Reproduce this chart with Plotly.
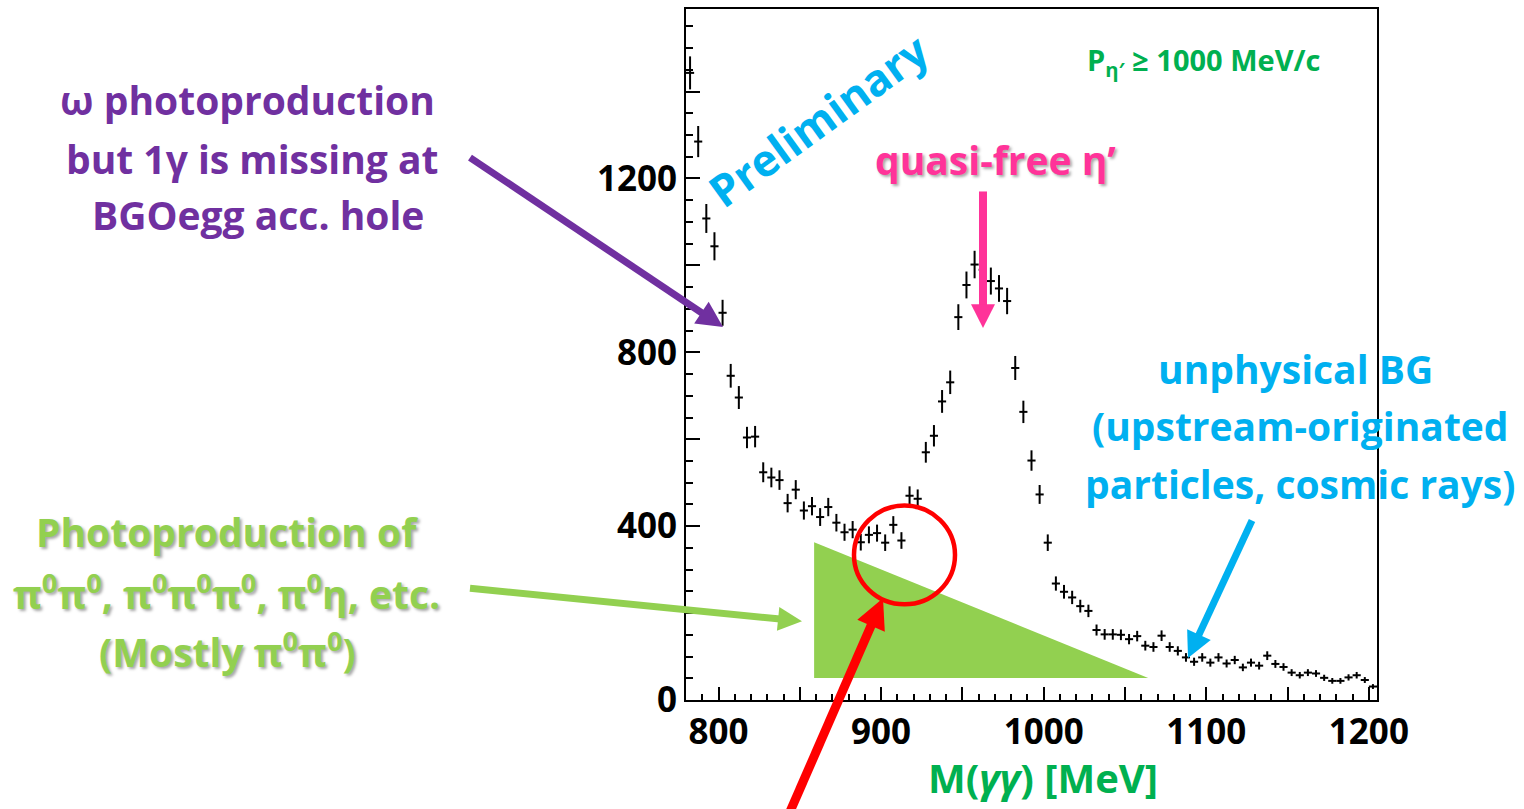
import numpy as np
import plotly.graph_objects as go

# Two-photon invariant mass spectrum, 5 MeV bins from 780 to 1205 MeV
bin_low = 780.0
bin_width = 5.0
counts = [
    1443, 1285, 1108, 1044, 891, 746, 696, 604, 606, 524,
    512, 506, 453, 484, 436, 446, 421, 444, 408, 386,
    392, 363, 380, 384, 362, 403, 367, 470, 463, 570,
    608, 687, 731, 881, 955, 1002, 990, 964, 947, 918,
    764, 663, 551, 473, 362, 268, 249, 236, 216, 205,
    161, 151, 151, 150, 140, 147, 125, 122, 148, 122,
    113, 98, 88, 98, 86, 98, 84, 92, 75, 86,
    79, 102, 83, 76, 63, 57, 63, 61, 51, 44,
    44, 52, 57, 46, 31,
]
bin_centers = bin_low + bin_width * (np.arange(len(counts)) + 0.5)
count_errors = np.sqrt(np.array(counts, dtype=float))

x_tick_values = [800, 850, 900, 950, 1000, 1050, 1100, 1150, 1200]
x_tick_labels = ["800", "", "900", "", "1000", "", "1100", "", "1200"]
y_tick_values = [0, 200, 400, 600, 800, 1000, 1200, 1400]
y_tick_labels = ["0", "", "400", "", "800", "", "1200", ""]

W, H = 1524, 809
PL, PR, PT, PB = 686, 1377, 7, 700  # plot frame in page pixels
FONT = "Open Sans"


def px(x):
    return (x - PL) / (PR - PL)


def py(y):
    return (PB - y) / (PB - PT)


fig = go.Figure()
fig.add_trace(go.Scatter(
    x=bin_centers, y=counts, mode="markers",
    marker=dict(size=2, color="rgba(0,0,0,0)", line=dict(width=0)),
    error_y=dict(type="data", array=count_errors, thickness=2, width=0, color="black"),
    error_x=dict(type="constant", value=bin_width / 2, thickness=2, width=0, color="black"),
    showlegend=False, hoverinfo="x+y",
))

shapes = []

# shaded multi-pion background sketch
shapes.append(dict(
    type="path", xref="x", yref="y", layer="below",
    path="M 858.8,50.5 L 858.8,363 L 1064.3,50.5 Z",
    fillcolor="#92D050", line=dict(width=0),
))

# circle marking the overlap region
shapes.append(dict(
    type="circle", xref="paper", yref="paper",
    x0=px(854), x1=px(955), y0=py(604), y1=py(505),
    line=dict(color="#FF0000", width=4.5),
))


def arrow(tail, tip, width, head_len, head_w, color):
    tx, ty = tail
    hx, hy = tip
    d = np.hypot(hx - tx, hy - ty)
    ux, uy = (hx - tx) / d, (hy - ty) / d
    bx, by = hx - ux * head_len, hy - uy * head_len
    nx, ny = -uy, ux
    shapes.append(dict(
        type="line", xref="paper", yref="paper",
        x0=px(tx), y0=py(ty), x1=px(bx + ux * 2), y1=py(by + uy * 2),
        line=dict(color=color, width=width),
    ))
    p1 = (bx + nx * head_w / 2, by + ny * head_w / 2)
    p2 = (bx - nx * head_w / 2, by - ny * head_w / 2)
    shapes.append(dict(
        type="path", xref="paper", yref="paper",
        path=f"M {px(hx)},{py(hy)} L {px(p1[0])},{py(p1[1])} L {px(p2[0])},{py(p2[1])} Z",
        fillcolor=color, line=dict(width=0),
    ))


arrow((470, 156), (723, 326), 7, 26, 26, "#7030A0")
arrow((983, 190), (983, 327), 8, 24, 24, "#FF3399")
arrow((1252, 520), (1188, 658), 7, 26, 26, "#00B0F0")
arrow((470, 588), (802, 621), 7, 24, 24, "#92D050")
arrow((790, 812), (883, 598), 9, 30, 30, "#FF0000")

annotations = []


def label(text, x, y, size, color, angle=0, shadow=None):
    font = dict(family=FONT, size=size, color=color, weight="bold")
    if shadow:
        font["shadow"] = shadow
    annotations.append(dict(
        text=text, xref="paper", yref="paper", x=px(x), y=py(y),
        xanchor="center", yanchor="middle", showarrow=False,
        font=font, textangle=angle,
    ))


soft_shadow = "2px 2px 3px rgba(0,0,0,0.35)"

label("ω photoproduction", 247, 98, 39, "#7030A0")
label("but 1γ is missing at", 252, 157, 39, "#7030A0")
label("BGOegg acc. hole", 258, 213, 39, "#7030A0")

label("Photoproduction of", 227, 531, 39, "#92D050", shadow=soft_shadow)
label("π<sup>0</sup>π<sup>0</sup>, π<sup>0</sup>π<sup>0</sup>π<sup>0</sup>, π<sup>0</sup>η, etc.",
      226, 592, 39, "#92D050", shadow=soft_shadow)
label("(Mostly π<sup>0</sup>π<sup>0</sup>)", 227, 650, 39, "#92D050", shadow=soft_shadow)

label("unphysical BG", 1295, 368, 39, "#00B0F0")
label("(upstream-originated", 1300, 425, 39, "#00B0F0")
label("particles, cosmic rays)", 1300, 483, 39, "#00B0F0")

label("quasi-free η’", 995, 158, 39, "#FF3399", shadow=soft_shadow)
label("P<sub>η′</sub> ≥ 1000 MeV/c", 1203, 60, 29, "#00B050")
label("Preliminary", 818, 118, 44, "#00B0F0", angle=-36)

# x-axis title
label("M(<i>γγ</i>) [MeV]", 1043, 778, 40, "#00B050")

fig.update_layout(
    width=W, height=H,
    margin=dict(l=PL, r=W - PR, t=PT, b=H - PB, pad=0),
    paper_bgcolor="white", plot_bgcolor="white",
    shapes=shapes, annotations=annotations,
    xaxis=dict(
        range=[780, 1205], tickmode="array",
        tickvals=x_tick_values, ticktext=x_tick_labels,
        ticks="inside", ticklen=13, tickwidth=2, tickcolor="black",
        minor=dict(tickmode="linear", tick0=780, dtick=10, ticks="inside",
                   ticklen=6, tickwidth=2, tickcolor="black"),
        showgrid=False, zeroline=False,
        showline=True, linewidth=2, linecolor="black", mirror=True,
        tickfont=dict(family=FONT, size=35, color="black", weight="bold"),
    ),
    yaxis=dict(
        range=[0, 1590], tickmode="array",
        tickvals=y_tick_values, ticktext=y_tick_labels,
        ticks="inside", ticklen=14, tickwidth=2, tickcolor="black",
        minor=dict(tickmode="linear", tick0=0, dtick=50, ticks="inside",
                   ticklen=7, tickwidth=2, tickcolor="black"),
        showgrid=False, zeroline=False,
        showline=True, linewidth=2, linecolor="black", mirror=True,
        tickfont=dict(family=FONT, size=35, color="black", weight="bold"),
    ),
)

fig.write_html("out.html")
